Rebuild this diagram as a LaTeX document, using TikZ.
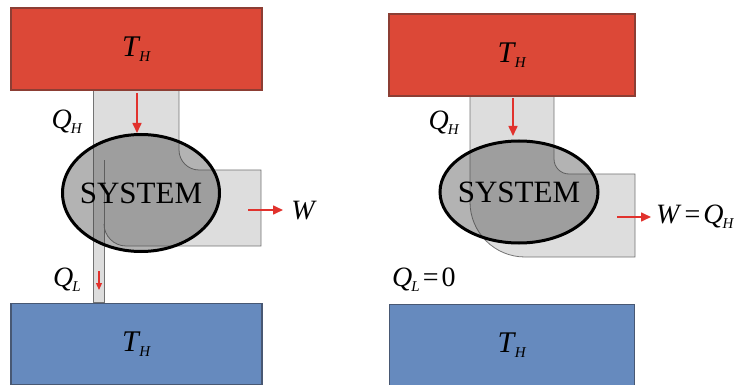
\documentclass[tikz,border=0pt]{standalone}
\usepackage{fontspec}
\setmainfont{Liberation Serif}
\usetikzlibrary{arrows.meta, positioning, shapes.geometric}
\definecolor{hotred}{RGB}{220,72,55}
\definecolor{hotedge}{RGB}{140,62,52}
\definecolor{coldblue}{RGB}{102,138,190}
\definecolor{coldedge}{RGB}{72,88,115}
\definecolor{pipegray}{RGB}{221,221,221}
\definecolor{pipeedge}{RGB}{115,115,115}
\definecolor{flowred}{RGB}{225,50,45}
\newcommand{\qsub}[2]{\textit{#1}\kern-1pt\raisebox{-5pt}{\fontsize{15pt}{15pt}\selectfont\textit{#2}}}

\begin{document}
\begin{tikzpicture}[
    x=1pt, y=-1pt,
    resv/.style={draw, line width=1.2pt, inner sep=0pt, font=\fontsize{30pt}{30pt}\selectfont},
    hot/.style={resv, fill=hotred, draw=hotedge},
    cold/.style={resv, fill=coldblue, draw=coldedge},
    pipe/.style={fill=pipegray},
    pipeline/.style={draw=pipeedge, line width=0.8pt},
    sys/.style={ellipse, draw=black, line width=3pt, fill=black!75, fill opacity=0.4, text opacity=1, inner xsep=-10pt, inner ysep=0pt, font=\fontsize{31pt}{31pt}\selectfont},
    ar/.style={-{Triangle[length=10pt, width=9pt]}, flowred, line width=1.6pt},
    arsm/.style={-{Triangle[length=7pt, width=6pt]}, flowred, line width=1.2pt},
    lbl/.style={inner sep=0pt, font=\fontsize{28pt}{28pt}\selectfont}
]
\useasboundingbox (0,0) rectangle (745,385);

% left: engine with heat rejected
\fill[pipe] (93,90) -- (179,90) -- (179,150) .. controls (179,161) and (188,170) .. (199,170)
    -- (261,170) -- (261,246) -- (126,246) .. controls (114,246) and (104,236) .. (104,224)
    -- (104,302) -- (93,302) -- cycle;
\draw[pipeline] (93,90) -- (93,302) -- (104,302) -- (104,160);
\draw[pipeline] (104,224) .. controls (104,236) and (114,246) .. (126,246) -- (261,246) -- (261,170)
    -- (199,170) .. controls (188,170) and (179,161) .. (179,150) -- (179,90);

\node[hot, minimum width=251pt, minimum height=82pt] (hotL) at (136.5,49) {\qsub{T}{H}};
\node[cold, minimum width=251pt, minimum height=81pt, below=212pt of hotL] (coldL) {\qsub{T}{H}};
\node[sys, minimum width=157pt, minimum height=117pt] (sysL) at (141,193) {SYSTEM};

\coordinate (qhL1) at (137,93);
\coordinate (qhL2) at (137,133);
\coordinate (wL1) at (248,210);
\coordinate (wL2) at (283,210);
\coordinate (qlL1) at (99,271);
\coordinate (qlL2) at (99,290);
\draw[ar] (qhL1) -- (qhL2);
\draw[ar] (wL1) -- (wL2);
\draw[arsm] (qlL1) -- (qlL2);

\node[lbl] (labQhL) at (67,122) {\qsub{Q}{H}};
\node[lbl] (labQlL) at (67,280) {\qsub{Q}{L}};
\node[lbl] (labWL) at (304,211) {\textit{W}};

% right: all heat turned into work
\fill[pipe] (470,96) -- (554,96) -- (554,159) .. controls (554,167.3) and (560.7,174) .. (569,174)
    -- (635,174) -- (635,257) -- (525,257) .. controls (494.6,257) and (470,232.4) .. (470,202) -- cycle;
\draw[pipeline] (470,96) -- (470,202) .. controls (470,232.4) and (494.6,257) .. (525,257) -- (635,257)
    -- (635,174) -- (569,174) .. controls (560.7,174) and (554,167.3) .. (554,159) -- (554,96);

\node[hot, minimum width=246pt, minimum height=82pt] (hotR) at (512,55) {\qsub{T}{H}};
\node[cold, minimum width=245pt, minimum height=81pt, below=207pt of hotR] (coldR) {\qsub{T}{H}};
\node[sys, minimum width=158pt, minimum height=102pt] (sysR) at (519,192) {SYSTEM};

\coordinate (qhR1) at (513,98);
\coordinate (qhR2) at (513,136);
\coordinate (wR1) at (617,217);
\coordinate (wR2) at (651,217);
\draw[ar] (qhR1) -- (qhR2);
\draw[ar] (wR1) -- (wR2);

\node[lbl] (labQhR) at (444,123) {\qsub{Q}{H}};
\node[lbl, anchor=west] (labQlR) at (392,280) {\qsub{Q}{L}\kern3pt=\kern3pt0};
\node[lbl, anchor=west] (labWR) at (656,217) {\textit{W}\kern3pt=\kern3pt\qsub{Q}{H}};
\end{tikzpicture}
\end{document}
